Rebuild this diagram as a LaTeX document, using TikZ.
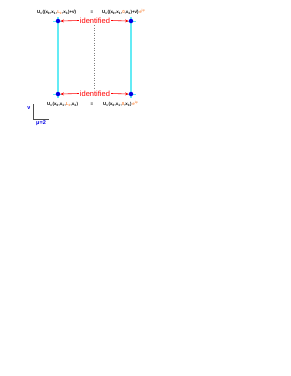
\documentclass[tikz,border=0pt]{standalone}
\usepackage{fontspec}
\setmainfont{Liberation Sans}
\usetikzlibrary{arrows.meta}
\definecolor{lcyan}{RGB}{100,235,245}
\definecolor{lorange}{RGB}{250,140,70}
\definecolor{dblue}{RGB}{0,0,230}
\newcommand{\sbs}[1]{\textsubscript{#1}}
\tikzset{
  eqtext/.style={font=\fontsize{4.4}{5}\selectfont\bfseries, inner sep=0pt, text=black},
  idtext/.style={font=\fontsize{7.5}{8}\selectfont, text=red, inner sep=1pt},
  site/.style={circle, fill=dblue, inner sep=0pt, minimum size=4.5pt},
  link/.style={lcyan, line width=1.3pt},
  tick/.style={lcyan, line width=0.7pt},
  idarrow/.style={red, line width=0.6pt, -{Stealth[length=3.5pt,width=3pt]}},
  axis/.style={gray!60!black, line width=0.7pt},
  axlabel/.style={font=\fontsize{5.5}{6}\selectfont\bfseries, text=dblue, inner sep=0pt}
}
\begin{document}
\begin{tikzpicture}[x=1pt,y=-1pt]
\useasboundingbox (0,0) rectangle (291,376);
\coordinate (tlu) at (58,17);
\coordinate (trup) at (131,17);
\coordinate (bld) at (58,98);
\coordinate (brd) at (131,98);
% links
\draw[link] (tlu) -- (bld);
\draw[link] (trup) -- (brd);
% ticks
\foreach \p in {(58,21),(131,21),(58,94),(131,94)}
  \draw[tick] \p ++(-5,0) -- ++(10,0);
% sites
\node[site] (tl) at (58,21) {};
\node[site] (tr) at (131,21) {};
\node[site] (bl) at (58,94) {};
\node[site] (br) at (131,94) {};
% dotted middle
\coordinate (mt) at (94,25);
\coordinate (mb) at (94,90);
\draw[gray, dotted, line width=0.5pt] (mt) -- (mb);
% identified
\node[idtext] (idt) at (95,20.5) {identified};
\node[idtext] (idb) at (95,93.5) {identified};
\draw[idarrow] (idt.west) -- (tl.east);
\draw[idarrow] (idt.east) -- (tr.west);
\draw[idarrow] (idb.west) -- (bl.east);
\draw[idarrow] (idb.east) -- (br.west);
% equations
\node[eqtext, anchor=west] (eqtl) at (37,12) {U\sbs{ν}((x\sbs{0},x\sbs{1},\textcolor{lorange}{L\sbs{2}},x\sbs{3})+ν̂)};
\node[eqtext] (eqt) at (92,12) {=};
\node[eqtext, anchor=west] (eqtr) at (102,12) {U\sbs{ν}((x\sbs{0},x\sbs{1},\textcolor{lorange}{0},x\sbs{3})+ν̂)\,\textcolor{lorange}{e\textsuperscript{iφ}}};
\node[eqtext, anchor=west] (eqbl) at (47,104) {U\sbs{ν}(x\sbs{0},x\sbs{1},\textcolor{lorange}{L\sbs{2}},x\sbs{3})};
\node[eqtext] (eqb) at (92,104) {=};
\node[eqtext, anchor=west] (eqbr) at (103,104) {U\sbs{ν}(x\sbs{0},x\sbs{1},\textcolor{lorange}{0},x\sbs{3})\,\textcolor{lorange}{e\textsuperscript{iφ}}};
% axes
\coordinate (ax0) at (33,119);
\coordinate (axv) at (33,104);
\coordinate (axh) at (49,119);
\draw[axis] (axv) -- (ax0) -- (axh);
\node[axlabel] (lv) at (29,108) {ν};
\node[axlabel] (lmu) at (41,123.5) {μ=2};
\end{tikzpicture}
\end{document}
